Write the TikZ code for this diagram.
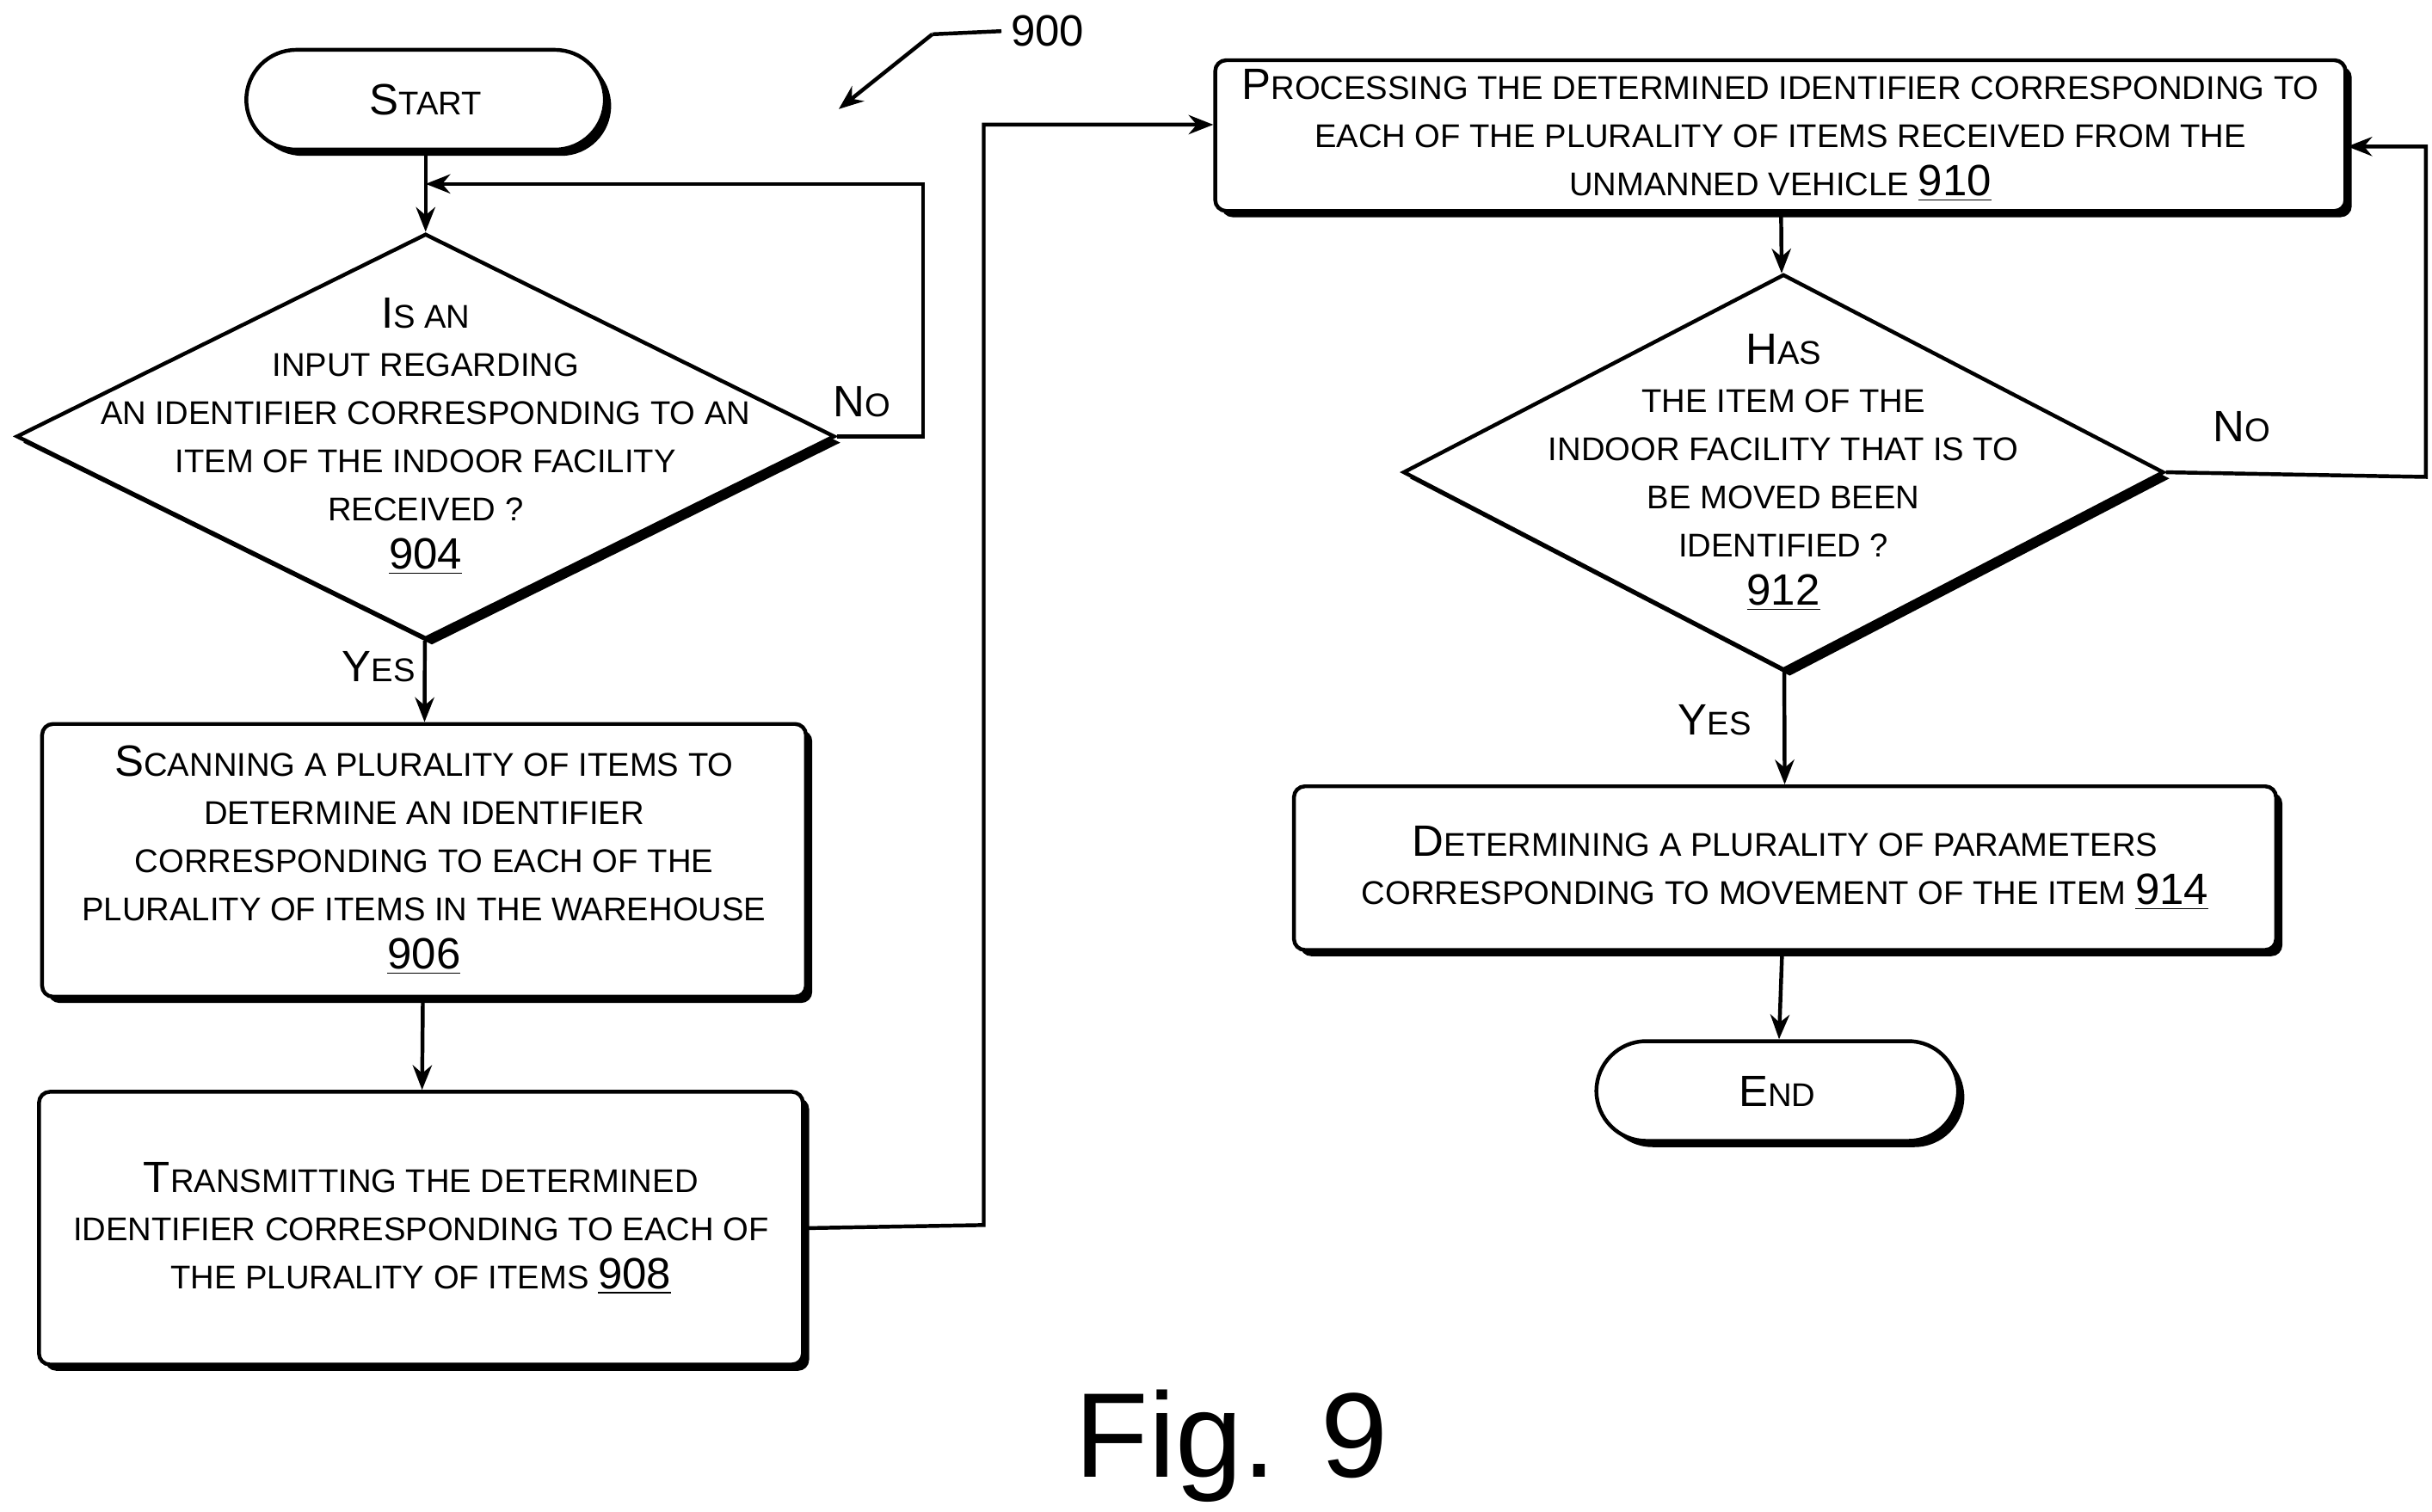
\documentclass[tikz,border=0pt]{standalone}
\usepackage{fontspec}
\setmainfont{Liberation Sans}
\usetikzlibrary{arrows.meta,positioning,shapes.geometric,shadows}
\newcommand\bigc[1]{{\fontsize{16}{17.6}\selectfont #1}}
\tikzset{
  box/.style={draw, line width=1.4pt, rounded corners=4pt, fill=white, align=center,
    font=\fontsize{12}{17.6}\selectfont,
    drop shadow={fill=black, opacity=1, shadow xshift=0.08cm, shadow yshift=-0.08cm}},
  term/.style={box, rounded corners=0.64cm},
  decision/.style={draw, line width=1.4pt, diamond, fill=white, inner sep=0pt,
    drop shadow={fill=black, opacity=1, shadow xshift=0.08cm, shadow yshift=-0.08cm}},
  dtext/.style={align=center, font=\fontsize{12}{17.6}\selectfont},
  flow/.style={-{Stealth[length=9pt,width=7pt]}, line width=1.4pt},
  lbl/.style={font=\fontsize{12}{14}\selectfont}
}
\begin{document}
\begin{tikzpicture}
  \useasboundingbox (0,0) rectangle (31.2,19.4);
  % left column
  \node[term, minimum width=4.6cm, minimum height=1.28cm] (start) at (5.46,18.12) {\bigc{S}TART};
  \node[decision, aspect=2.02, minimum width=10.5cm, minimum height=5.2cm] (d904) at (5.46,13.8) {};
  \node[dtext] (t904) at (d904.center)
    {\bigc{I}S AN\\INPUT REGARDING\\AN IDENTIFIER CORRESPONDING TO AN\\ITEM OF THE INDOOR FACILITY\\RECEIVED ?\\\bigc{\underline{904}}};
  \node[box, minimum width=9.8cm, minimum height=3.5cm] (b906) at (5.44,8.36)
    {\bigc{S}CANNING A PLURALITY OF ITEMS TO\\DETERMINE AN IDENTIFIER\\CORRESPONDING TO EACH OF THE\\PLURALITY OF ITEMS IN THE WAREHOUSE\\\bigc{\underline{906}}};
  \node[box, minimum width=9.8cm, minimum height=3.5cm] (b908) at (5.4,3.64)
    {\bigc{T}RANSMITTING THE DETERMINED\\IDENTIFIER CORRESPONDING TO EACH OF\\THE PLURALITY OF ITEMS \bigc{\underline{908}}};
  % right column
  \node[box, minimum width=14.5cm, minimum height=1.9cm] (b910) at (22.84,17.66)
    {\bigc{P}ROCESSING THE DETERMINED IDENTIFIER CORRESPONDING TO\\EACH OF THE PLURALITY OF ITEMS RECEIVED FROM THE\\UNMANNED VEHICLE \bigc{\underline{910}}};
  \node[decision, aspect=1.92, minimum width=9.76cm, minimum height=5.08cm] (d912) at (22.88,13.34) {};
  \node[dtext] (t912) at (d912.center)
    {\bigc{H}AS\\THE ITEM OF THE\\INDOOR FACILITY THAT IS TO\\BE MOVED BEEN\\IDENTIFIED ?\\\bigc{\underline{912}}};
  \node[box, minimum width=12.6cm, minimum height=2.1cm] (b914) at (22.9,8.26)
    {\bigc{D}ETERMINING A PLURALITY OF PARAMETERS\\CORRESPONDING TO MOVEMENT OF THE ITEM \bigc{\underline{914}}};
  \node[term, minimum width=4.64cm, minimum height=1.28cm] (end) at (22.8,5.4) {\bigc{E}ND};
  % connectors
  \coordinate (loopA) at (5.46,17.04);
  \draw[flow] (start) -- (d904);
  \draw[flow] (d904.east) -- (11.84,13.8) -- (11.84,17.04) -- (loopA);
  \draw[flow] (d904) -- (b906);
  \draw[flow] (b906) -- (b908);
  \draw[flow] (b908.east) -- (12.62,3.68) |- ([yshift=0.14cm]b910.west);
  \draw[flow] (b910) -- (d912);
  \draw[flow] (d912.east) -- (31.12,13.28) |- ([yshift=-0.14cm]b910.east);
  \draw[flow] (d912) -- (b914);
  \draw[flow] (b914) -- (end);
  % labels
  \node[lbl] (no1) at (11.06,14.24) {\bigc{N}O};
  \node[lbl] (yes1) at (4.86,10.84) {\bigc{Y}ES};
  \node[lbl] (no2) at (28.76,13.92) {\bigc{N}O};
  \node[lbl] (yes2) at (22.0,10.16) {\bigc{Y}ES};
  \node[font=\fontsize{16}{18}\selectfont] (ref) at (13.44,19.0) {900};
  \coordinate (refa) at (11.96,18.96);
  \coordinate (refb) at (10.76,18.0);
  \draw[line width=1.4pt] (ref.west) -- (refa);
  \draw[flow] (refa) -- (refb);
  \node[font=\fontsize{44}{48}\selectfont] (fig) at (15.8,0.84) {Fig. 9};
\end{tikzpicture}
\end{document}
